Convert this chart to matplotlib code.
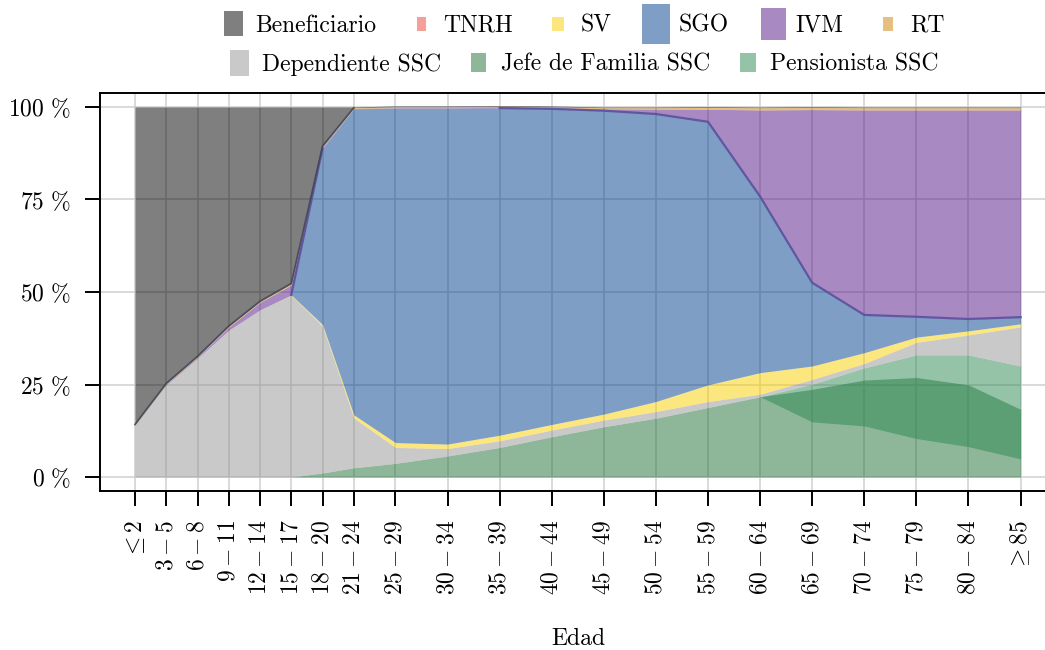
import numpy as np
import matplotlib
matplotlib.use("Agg")
import matplotlib.pyplot as plt
from matplotlib.patches import Patch, Rectangle
from matplotlib.legend_handler import HandlerPatch

# limite inferior de cada grupo de edad
edad = [0, 3, 6, 9, 12, 15, 18, 21, 25, 30, 35, 40, 45, 50, 55, 60, 65, 70, 75, 80, 85]
etiquetas = [r"$\leq 2$", r"$3 - 5$", r"$6 - 8$", r"$9 - 11$", r"$12 - 14$",
             r"$15 - 17$", r"$18 - 20$", r"$21 - 24$", r"$25 - 29$", r"$30 - 34$",
             r"$35 - 39$", r"$40 - 44$", r"$45 - 49$", r"$50 - 54$", r"$55 - 59$",
             r"$60 - 64$", r"$65 - 69$", r"$70 - 74$", r"$75 - 79$", r"$80 - 84$",
             r"$\geq 85$"]

# porcentajes (%) por grupo de edad
jefe = [0, 0, 0, 0, 0, 0, 1.1, 2.5, 3.7, 5.7, 8.0, 10.9, 13.6, 15.9, 18.8, 21.7,
        23.7, 26.2, 26.9, 24.9, 18.3]
pens_desde = [0, 0, 0, 0, 0, 0, 1.1, 2.5, 3.7, 5.7, 8.0, 10.9, 13.6, 15.9, 18.8, 21.7,
              14.9, 13.8, 10.4, 8.2, 4.9]
pens = [0, 0, 0, 0, 0, 0, 0, 0, 0, 0, 0, 0, 0, 0, 0, 0,
        10.2, 15.7, 22.6, 24.8, 25.1]
dependiente = [14.1, 24.9, 32.1, 39.7, 45.2, 49.1, 39.7, 13.5, 4.3, 2.0, 1.8, 1.8,
               1.8, 1.8, 1.6, 0.7, 1.3, 1.2, 3.4, 5.4, 10.6]
sv = [0, 0, 0, 0, 0, 0.1, 0.4, 0.8, 1.3, 1.2, 1.5, 1.5, 1.6, 2.7, 4.5, 5.8,
      3.6, 2.9, 1.4, 1.1, 0.8]
sgo = [0, 0, 0, 0, 0, 0, 47.6, 82.7, 90.4, 90.8, 88.4, 85.3, 82.0, 77.7, 71.1, 47.6,
       22.5, 10.2, 5.5, 3.2, 1.8]
tnrh = [0, 0, 0, 0, 0, 0, 0, 0, 0, 0, 0, 0, 0, 0, 0.1, 0.1, 0.1, 0.1, 0.1, 0.1, 0.1]
ivm = [0, 0.2, 0.3, 0.8, 2.0, 2.7, 0.3, 0.1, 0.1, 0.1, 0.2, 0.3, 0.5, 1.3, 3.3, 23.3,
       46.7, 55.3, 55.8, 56.4, 55.9]
rt = [0.1, 0.2, 0.2, 0.3, 0.3, 0.4, 0.3, 0.2, 0.3, 0.3, 0.3, 0.3, 0.3, 0.4, 0.5, 0.6,
      0.6, 0.6, 0.6, 0.6, 0.6]
beneficiario = [85.8, 74.7, 67.4, 59.2, 52.5, 47.7, 10.6, 0.2, 0.2, 0.2, 0.2, 0.2,
                0.2, 0.2, 0.2, 0.2, 0.2, 0.2, 0.2, 0.2, 0.2]

colores = {
    "Beneficiario": "#000000",
    "TNRH": "#ed4139",
    "SV": "#fbd100",
    "SGO": "#003f8d",
    "IVM": "#531587",
    "RT": "#cb8100",
    "Dependiente SSC": "#959595",
    "Jefe de Familia SSC": "#1f7137",
    "Pensionista SSC": "#2b8951",
}
# tamano (ancho, alto) en puntos del cuadro de cada entrada de la leyenda
cajas = {
    "Beneficiario": (14, 18), "TNRH": (7, 10), "SV": (9, 10), "SGO": (20, 29),
    "IVM": (18, 23), "RT": (7, 10), "Dependiente SSC": (14, 19),
    "Jefe de Familia SSC": (11, 14), "Pensionista SSC": (11, 14),
}

plt.rcParams["font.family"] = ["cmr10", "DejaVu Serif"]
plt.rcParams["mathtext.fontset"] = "cm"
plt.rcParams["axes.unicode_minus"] = False

fig = plt.figure(figsize=(10.45, 6.5), dpi=100)
ax = fig.add_axes([100 / 1045, 159 / 650, 956 / 1045, 398 / 650])

A = 0.5
x = np.array(edad)
ax.fill_between(x, 0, jefe, color=colores["Jefe de Familia SSC"], alpha=A, lw=0)
p0 = np.array(pens_desde)
ax.fill_between(x, p0, p0 + np.array(pens), color=colores["Pensionista SSC"], alpha=A, lw=0)

capas = [("Dependiente SSC", dependiente), ("SV", sv), ("SGO", sgo), ("TNRH", tnrh),
         ("IVM", ivm), ("RT", rt), ("Beneficiario", beneficiario)]
abajo = p0 + np.array(pens)
bordes = {}
for nombre, vals in capas:
    arriba = abajo + np.array(vals)
    ax.fill_between(x, abajo, arriba, color=colores[nombre], alpha=A, lw=0)
    bordes[nombre] = (abajo.copy(), arriba.copy())
    abajo = arriba

# lineas oscuras en los bordes de SGO/IVM y de Beneficiario
sgo_arr = np.array(sgo)
u = (np.array(ivm) >= 0.3) & (sgo_arr > 0)
usar = u | np.roll(u, -1)
ax.plot(x, np.where(usar, bordes["SGO"][1], np.nan), color="#5a4f9e", lw=1.6, alpha=0.9)
ben_arr = np.array(beneficiario)
usar = (ben_arr > 1) | (np.roll(ben_arr, 1) > 1)
ax.plot(x, np.where(usar, bordes["Beneficiario"][0], np.nan), color="#3f4350", lw=1.3,
        alpha=0.8)

ax.set_xlim(-3.36, 88.4)
ax.set_ylim(-3.78, 103.78)
ax.set_xticks(edad)
ax.set_xticklabels(etiquetas, rotation=90, va="top", ha="center")
ax.set_yticks([0, 25, 50, 75, 100])
ax.set_yticklabels([r"$0\ \%$", r"$25\ \%$", r"$50\ \%$", r"$75\ \%$", r"$100\ \%$"])
ax.tick_params(direction="out", length=10.8, width=1.4, pad=10, labelsize=17)
ax.grid(True, color="#cfcfcf", lw=1.1)
ax.set_axisbelow(True)
for s in ax.spines.values():
    s.set_linewidth(1.4)
    s.set_color("black")

ax.set_xlabel("Edad", fontsize=17, va="top")
ax.xaxis.set_label_coords(0.5, -0.345)


class HandlerCaja(HandlerPatch):
    def create_artists(self, legend, orig_handle, xdescent, ydescent, width, height,
                       fontsize, trans):
        w, h = cajas[orig_handle.get_label()]
        p = Rectangle((width / 2 - w / 2 - xdescent, height / 2 - h / 2 - ydescent), w, h,
                      facecolor=orig_handle.get_facecolor(), edgecolor="none",
                      transform=trans)
        return [p]


fila1 = ["Beneficiario", "TNRH", "SV", "SGO", "IVM", "RT"]
fila2 = ["Dependiente SSC", "Jefe de Familia SSC", "Pensionista SSC"]
for fila, yy, cs in [(fila1, 1 - 25 / 650, 1.3), (fila2, 1 - 64 / 650, 1.0)]:
    manejadores = [Patch(facecolor=colores[n], alpha=A, label=n) for n in fila]
    fig.legend(handles=manejadores, loc="center", bbox_to_anchor=(0.557, yy),
               ncol=len(fila), frameon=False, fontsize=17, handlelength=1.2,
               handleheight=1.0, handletextpad=0.34, columnspacing=cs,
               handler_map={Patch: HandlerCaja()})

fig.savefig("out.png", dpi=100)
